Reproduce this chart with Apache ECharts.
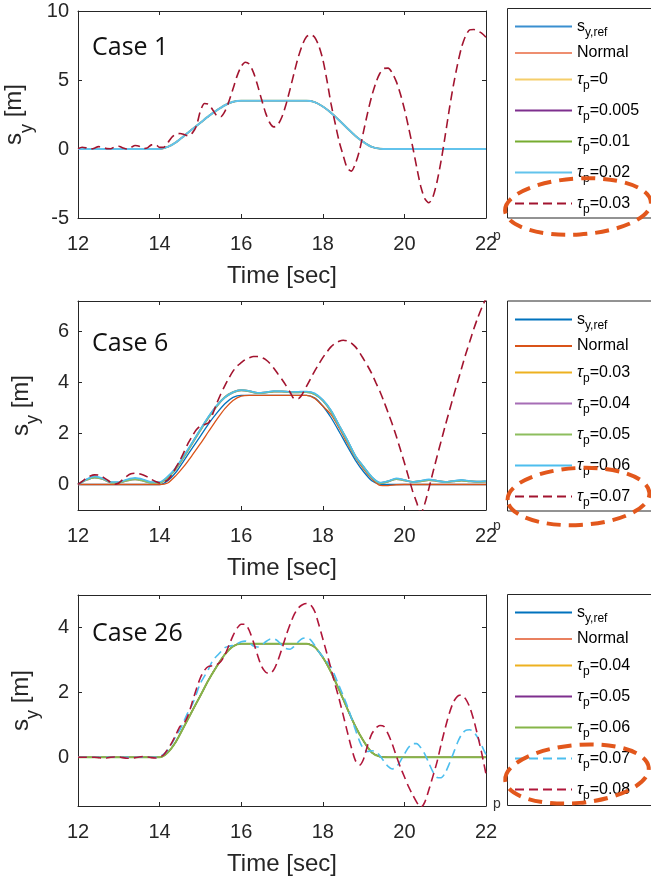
<!DOCTYPE html>
<html>
<head>
<meta charset="utf-8">
<script src="https://cdn.jsdelivr.net/npm/echarts@6/dist/echarts.min.js"></script>
<style>
html, body { margin: 0; padding: 0; background: #ffffff; }
#chart { width: 651px; height: 882px; }
</style>
</head>
<body>
<div id="chart"></div>
<script>
// ---- sample times [sec] ----
const time02 = [12.0,12.2,12.4,12.6,12.8,13.0,13.2,13.4,13.6,13.8,14.0,14.2,14.4,14.6,14.8,15.0,15.2,15.4,15.6,15.8,
  16.0,16.2,16.4,16.6,16.8,17.0,17.2,17.4,17.6,17.8,18.0,18.2,18.4,18.6,18.8,19.0,19.2,19.4,19.6,19.8,
  20.0,20.2,20.4,20.6,20.8,21.0,21.2,21.4,21.6,21.8,22.0];
const time01 = [12.0,12.1,12.2,12.3,12.4,12.5,12.6,12.7,12.8,12.9,13.0,13.1,13.2,13.3,13.4,13.5,13.6,13.7,13.8,13.9,
  14.0,14.1,14.2,14.3,14.4,14.5,14.6,14.7,14.8,14.9,15.0,15.1,15.2,15.3,15.4,15.5,15.6,15.7,15.8,15.9,
  16.0,16.1,16.2,16.3,16.4,16.5,16.6,16.7,16.8,16.9,17.0,17.1,17.2,17.3,17.4,17.5,17.6,17.7,17.8,17.9,
  18.0,18.1,18.2,18.3,18.4,18.5,18.6,18.7,18.8,18.9,19.0,19.1,19.2,19.3,19.4,19.5,19.6,19.7,19.8,19.9,
  20.0,20.1,20.2,20.3,20.4,20.5,20.6,20.7,20.8,20.9,21.0,21.1,21.2,21.3,21.4,21.5,21.6,21.7,21.8,21.9,22.0];

// ---- reference lateral path s_y,ref [m] (on time02) ----
const sRef = [0,0,0,0,0,0,0,0,0,0,
  0,0.15,0.48,0.95,1.43,1.9,2.38,2.8,3.17,3.42,3.5,
  3.5,3.5,3.5,3.5,3.5,3.5,3.5,3.5,
  3.4,3.08,2.63,2.08,1.5,0.95,0.5,0.15,0.02,
  0,0,0,0,0,0,0,0,0,0,0,0,0];

// ---- Case 1 (time01) ----
const case1Tau003 = [0.02,0.13,0.08,0.0,0.06,0.17,0.15,0.03,0.02,0.16,0.2,0.08,0.0,0.12,0.25,0.2,0.03,0.08,0.3,0.32,
  0.12,0.12,0.45,0.85,1.08,1.12,1.05,0.95,1.15,1.65,2.75,3.3,3.25,2.85,2.42,2.34,2.72,3.46,4.36,5.3,
  5.98,6.29,6.15,5.55,4.63,3.58,2.6,1.9,1.6,1.77,2.34,3.24,4.36,5.55,6.67,7.55,8.13,8.3,8.1,7.5,
  6.5,5.0,3.3,1.9,0.55,-0.47,-1.39,-1.6,-1.05,-0.1,1.29,2.64,3.84,4.8,5.49,5.84,5.86,5.52,4.9,4.0,
  2.9,1.6,0.2,-1.3,-2.7,-3.6,-3.9,-3.46,-2.37,-0.85,0.97,2.87,4.6,6.1,7.36,8.2,8.63,8.66,8.55,8.38,8.1];

// ---- Case 6 (time02 unless noted) ----
const case6Normal = [0,0,0,0,0,0,0,0,0,0,
  0,0.06,0.35,0.72,1.15,1.6,2.08,2.55,2.98,3.3,3.47,
  3.5,3.5,3.5,3.5,3.5,3.5,3.5,3.5,
  3.38,3.08,2.75,2.22,1.62,1.05,0.6,0.22,-0.03,
  -0.04,-0.01,0,0,0,0,0,0,0,0,0,0,0];
const case6TauLow = [0.0,0.18,0.28,0.22,0.08,0.07,0.16,0.21,0.15,0.07,
  0.07,0.28,0.62,1.1,1.62,2.14,2.64,3.08,3.42,3.62,
  3.7,3.66,3.59,3.61,3.65,3.65,3.62,3.62,3.63,3.55,
  3.3,2.88,2.3,1.72,1.1,0.68,0.28,0.06,0.12,0.22,
  0.17,0.1,0.13,0.18,0.14,0.1,0.13,0.16,0.13,0.11,0.12];
const case6Tau006 = [0.0,0.2,0.32,0.25,0.1,0.1,0.2,0.26,0.2,0.1,
  0.1,0.32,0.67,1.15,1.65,2.17,2.67,3.1,3.42,3.62,
  3.71,3.67,3.6,3.62,3.67,3.66,3.63,3.64,3.65,3.58,
  3.32,2.92,2.32,1.75,1.12,0.7,0.3,0.08,0.14,0.24,
  0.18,0.1,0.15,0.2,0.15,0.1,0.14,0.18,0.14,0.12,0.14];
const case6Tau007 = [0.0,0.12,0.24,0.33,0.38,0.37,0.3,0.2,0.09,0.01,0.06,0.2,0.33,0.42,0.44,0.42,0.37,0.3,0.2,0.12,
  0.06,0.1,0.18,0.38,0.67,0.95,1.28,1.62,1.9,2.15,2.3,2.35,2.42,2.76,3.18,3.55,3.88,4.18,4.45,4.65,
  4.78,4.9,4.97,5.02,5.02,4.98,4.9,4.76,4.56,4.34,4.12,3.88,3.62,3.37,3.37,3.55,3.85,4.15,4.45,4.72,
  4.98,5.2,5.4,5.53,5.62,5.66,5.63,5.55,5.4,5.18,4.92,4.65,4.35,4.0,3.65,3.25,2.82,2.38,1.9,1.38,
  0.85,0.3,-0.25,-0.7,-1.15,-0.75,-0.15,0.48,1.1,1.7,2.3,2.88,3.45,4.0,4.55,5.1,5.6,6.1,6.55,6.95,7.3];

// ---- Case 26 (time01) ----
const case26Tau007 = [0,0,0,0,0,0,0,0,0,0,0,0,0,0,0,0,0,0,0,0,
  0.02,0.1,0.22,0.42,0.65,0.85,1.12,1.4,1.62,1.95,2.28,2.5,2.72,2.98,3.12,3.25,3.38,3.42,3.45,3.5,
  3.56,3.58,3.52,3.43,3.4,3.45,3.56,3.64,3.65,3.58,3.45,3.35,3.33,3.42,3.56,3.66,3.68,3.62,3.45,3.25,
  3.1,2.95,2.78,2.5,2.2,1.9,1.58,1.22,0.85,0.5,0.25,0.18,0.2,0.18,0.05,-0.12,-0.28,-0.36,-0.3,-0.12,
  0.1,0.3,0.42,0.42,0.3,0.1,-0.18,-0.45,-0.62,-0.63,-0.48,-0.2,0.12,0.45,0.7,0.83,0.85,0.78,0.6,0.35,0.08];
const case26Tau008 = [0,0,0,0,0,-0.01,-0.02,-0.02,0,0.01,0.01,-0.01,-0.03,-0.03,-0.01,0.01,0.02,0.01,-0.01,-0.02,
  0.0,0.08,0.25,0.45,0.7,0.95,1.05,1.3,1.7,2.1,2.45,2.68,2.8,2.82,2.85,2.95,3.15,3.45,3.75,3.98,
  4.1,4.1,3.9,3.55,3.15,2.8,2.62,2.58,2.7,2.98,3.35,3.75,4.1,4.4,4.6,4.7,4.74,4.7,4.5,4.1,
  3.65,3.2,2.73,2.25,1.8,1.3,0.79,0.3,-0.1,-0.24,-0.05,0.38,0.72,0.9,0.98,0.95,0.72,0.42,0.05,-0.3,
  -0.6,-0.9,-1.15,-1.38,-1.55,-1.38,-1.0,-0.58,-0.14,0.4,0.9,1.35,1.7,1.88,1.92,1.8,1.55,1.15,0.65,0.1,-0.52];

// ---- tick labels ----
const xTicks = [12, 14, 16, 18, 20, 22];
const yTicks = [[-5, 0, 5, 10], [0, 2, 4, 6], [0, 2, 4]];
const yRanges = [[-5, 10], [-1, 7.2], [-1.5, 5]];
const caseTitles = ['Case 1', 'Case 6', 'Case 26'];
const tauLabels = [
  ['0', '0.005', '0.01', '0.02', '0.03'],
  ['0.03', '0.04', '0.05', '0.06', '0.07'],
  ['0.04', '0.05', '0.06', '0.07', '0.08']
];

// ---- layout ----
const GRID_LEFT = 78, GRID_W = 408;
const gridTops = [11, 301, 595];
const gridHeights = [207, 209, 211];
const legendTops = [14, 307, 600];
const frameTops = [8.5, 301, 594.5];
const frameHeights = [209.5, 210, 211];
const AXIS_COLOR = '#262626';
const FONT = '"Liberation Sans", Arial, Helvetica, sans-serif';

const labelOf = {};
function seriesLine(id, label, gi, times, values, color, width, dashed) {
  labelOf[id] = label;
  return {
    type: 'line', id: id, name: id,
    xAxisIndex: gi * 2, yAxisIndex: gi * 2,
    data: times.map((t, i) => [t, values[i]]),
    symbol: 'none', smooth: 0.25, silent: true, animation: false,
    lineStyle: { color: color, width: width, type: dashed ? [9, 5] : 'solid' },
    itemStyle: { color: color }
  };
}
const refLabel = '{m|s}{s|y,ref}';
const normLabel = '{m|Normal}';
const tauLabel = v => '{g|τ}{s|p}{m|=' + v + '}';

const series = [
  // Case 1
  seriesLine('c1-ref', refLabel, 0, time02, sRef, '#3A8FD0', 1.3),
  seriesLine('c1-normal', normLabel, 0, time02, sRef, '#EE8E70', 1.3),
  seriesLine('c1-tau-a', tauLabel(tauLabels[0][0]), 0, time02, sRef, '#F5CE6A', 2),
  seriesLine('c1-tau-b', tauLabel(tauLabels[0][1]), 0, time02, sRef, '#7E2F8E', 1.2),
  seriesLine('c1-tau-c', tauLabel(tauLabels[0][2]), 0, time02, sRef, '#77AC30', 1.2),
  seriesLine('c1-tau-d', tauLabel(tauLabels[0][3]), 0, time02, sRef, '#62C3EC', 2),
  seriesLine('c1-tau-e', tauLabel(tauLabels[0][4]), 0, time01, case1Tau003, '#A2142F', 1.6, true),
  // Case 6
  seriesLine('c6-ref', refLabel, 1, time02, sRef, '#0072BD', 1.3),
  seriesLine('c6-normal', normLabel, 1, time02, case6Normal, '#D95319', 1.3),
  seriesLine('c6-tau-a', tauLabel(tauLabels[1][0]), 1, time02, case6TauLow, '#EDB120', 1.2),
  seriesLine('c6-tau-b', tauLabel(tauLabels[1][1]), 1, time02, case6TauLow, '#A66DB5', 2),
  seriesLine('c6-tau-c', tauLabel(tauLabels[1][2]), 1, time02, case6TauLow, '#8DBE5E', 2),
  seriesLine('c6-tau-d', tauLabel(tauLabels[1][3]), 1, time02, case6Tau006, '#4DBEEE', 1.6),
  seriesLine('c6-tau-e', tauLabel(tauLabels[1][4]), 1, time01, case6Tau007, '#A2142F', 1.6, true),
  // Case 26
  seriesLine('c26-ref', refLabel, 2, time02, sRef, '#0072BD', 1.3),
  seriesLine('c26-normal', normLabel, 2, time02, sRef, '#E9805F', 1.3),
  seriesLine('c26-tau-a', tauLabel(tauLabels[2][0]), 2, time02, sRef, '#EDB120', 1.2),
  seriesLine('c26-tau-b', tauLabel(tauLabels[2][1]), 2, time02, sRef, '#7E2F8E', 1.2),
  seriesLine('c26-tau-c', tauLabel(tauLabels[2][2]), 2, time02, sRef, '#86B548', 2),
  seriesLine('c26-tau-d', tauLabel(tauLabels[2][3]), 2, time01, case26Tau007, '#4DBEEE', 1.6, true),
  seriesLine('c26-tau-e', tauLabel(tauLabels[2][4]), 2, time01, case26Tau008, '#B0163A', 1.6, true)
];

const grids = [], xAxes = [], yAxes = [], legends = [], graphics = [];
const axisLineStyle = { color: AXIS_COLOR, width: 1 };
for (let gi = 0; gi < 3; gi++) {
  grids.push({ left: GRID_LEFT, top: gridTops[gi], width: GRID_W, height: gridHeights[gi],
    containLabel: false, outerBoundsMode: 'none' });
  const xBase = {
    gridIndex: gi, type: 'value', min: 12, max: 22,
    axisLine: { show: true, onZero: false, lineStyle: axisLineStyle },
    axisTick: { show: true, inside: true, length: 4, lineStyle: axisLineStyle, customValues: xTicks },
    splitLine: { show: false }
  };
  xAxes.push(Object.assign({}, xBase, {
    position: 'bottom',
    axisLabel: { show: true, customValues: xTicks, fontSize: 20, color: AXIS_COLOR, fontFamily: FONT, margin: 16 },
    name: 'Time [sec]', nameLocation: 'middle', nameGap: 46,
    nameTextStyle: { fontSize: 24, color: AXIS_COLOR, fontFamily: FONT }
  }));
  xAxes.push(Object.assign({}, xBase, { position: 'top', axisLabel: { show: false } }));
  const yBase = {
    gridIndex: gi, type: 'value', min: yRanges[gi][0], max: yRanges[gi][1],
    axisLine: { show: true, onZero: false, lineStyle: axisLineStyle },
    axisTick: { show: true, inside: true, length: 4, lineStyle: axisLineStyle, customValues: yTicks[gi] },
    splitLine: { show: false }
  };
  yAxes.push(Object.assign({}, yBase, {
    position: 'left',
    axisLabel: { show: true, customValues: yTicks[gi], fontSize: 20, color: AXIS_COLOR, fontFamily: FONT, margin: 9 },
    name: '{a|s}{b|y}{a| [m]}', nameLocation: 'middle', nameGap: 43, nameRotate: 90,
    nameTextStyle: {
      color: AXIS_COLOR,
      rich: {
        a: { fontSize: 24, fontFamily: FONT, color: AXIS_COLOR, lineHeight: 28 },
        b: { fontSize: 18, fontFamily: FONT, color: AXIS_COLOR, lineHeight: 28, padding: [24, 0, 0, 0] }
      }
    }
  }));
  yAxes.push(Object.assign({}, yBase, { position: 'right', axisLabel: { show: false } }));

  legends.push({
    orient: 'vertical', left: 514, top: legendTops[gi],
    itemWidth: 57, itemHeight: 20, itemGap: 6, padding: 0,
    selectedMode: false,
    itemStyle: { opacity: 0 },
    data: series.filter(s => s.xAxisIndex === gi * 2).map(s => s.name),
    formatter: name => labelOf[name],
    textStyle: {
      color: '#000',
      rich: {
        m: { fontSize: 16, fontFamily: FONT, color: '#000', lineHeight: 20 },
        g: { fontSize: 16, fontFamily: FONT, fontStyle: 'italic', color: '#000', lineHeight: 20 },
        s: { fontSize: 12, fontFamily: FONT, color: '#000', lineHeight: 20, padding: [13, 0, 0, 0] }
      }
    }
  });

  // legend frame
  graphics.push({
    type: 'rect', z: 1, silent: true,
    shape: { x: 507.5, y: frameTops[gi], width: 200, height: frameHeights[gi] },
    style: { fill: '#ffffff', stroke: AXIS_COLOR, lineWidth: 1 }
  });
  // case title inside the axes
  graphics.push({
    type: 'text', z: 50, silent: true,
    x: 92, y: [47.5, 344, 634][gi],
    style: { text: caseTitles[gi], font: '25px "Open Sans", "Noto Sans", sans-serif', fill: '#111', verticalAlign: 'middle' }
  });
}

// highlighted legend entries (dashed orange ellipses)
const ellipses = [
  { cx: 578, cy: 206.5, rx: 73, ry: 28, rot: 0.06 },
  { cx: 578.5, cy: 496.5, rx: 71, ry: 28.5, rot: 0.05 },
  { cx: 577, cy: 774, rx: 72, ry: 29, rot: 0.09 }
];
ellipses.forEach(e => {
  graphics.push({
    type: 'ellipse', z: 100, silent: true,
    x: e.cx, y: e.cy, rotation: e.rot,
    shape: { cx: 0, cy: 0, rx: e.rx, ry: e.ry },
    style: { fill: null, stroke: '#E2571C', lineWidth: 4, lineDash: [14, 8] }
  });
  graphics.push({
    type: 'text', z: 100, silent: true, x: 493, y: e.cy + 30,
    style: { text: 'p', font: '14px ' + FONT, fill: '#333', verticalAlign: 'middle' }
  });
});

const chart = echarts.init(document.getElementById('chart'), null, { renderer: 'canvas' });
chart.setOption({
  animation: false,
  backgroundColor: '#ffffff',
  grid: grids,
  xAxis: xAxes,
  yAxis: yAxes,
  legend: legends,
  series: series,
  graphic: graphics
});
</script>
</body>
</html>
